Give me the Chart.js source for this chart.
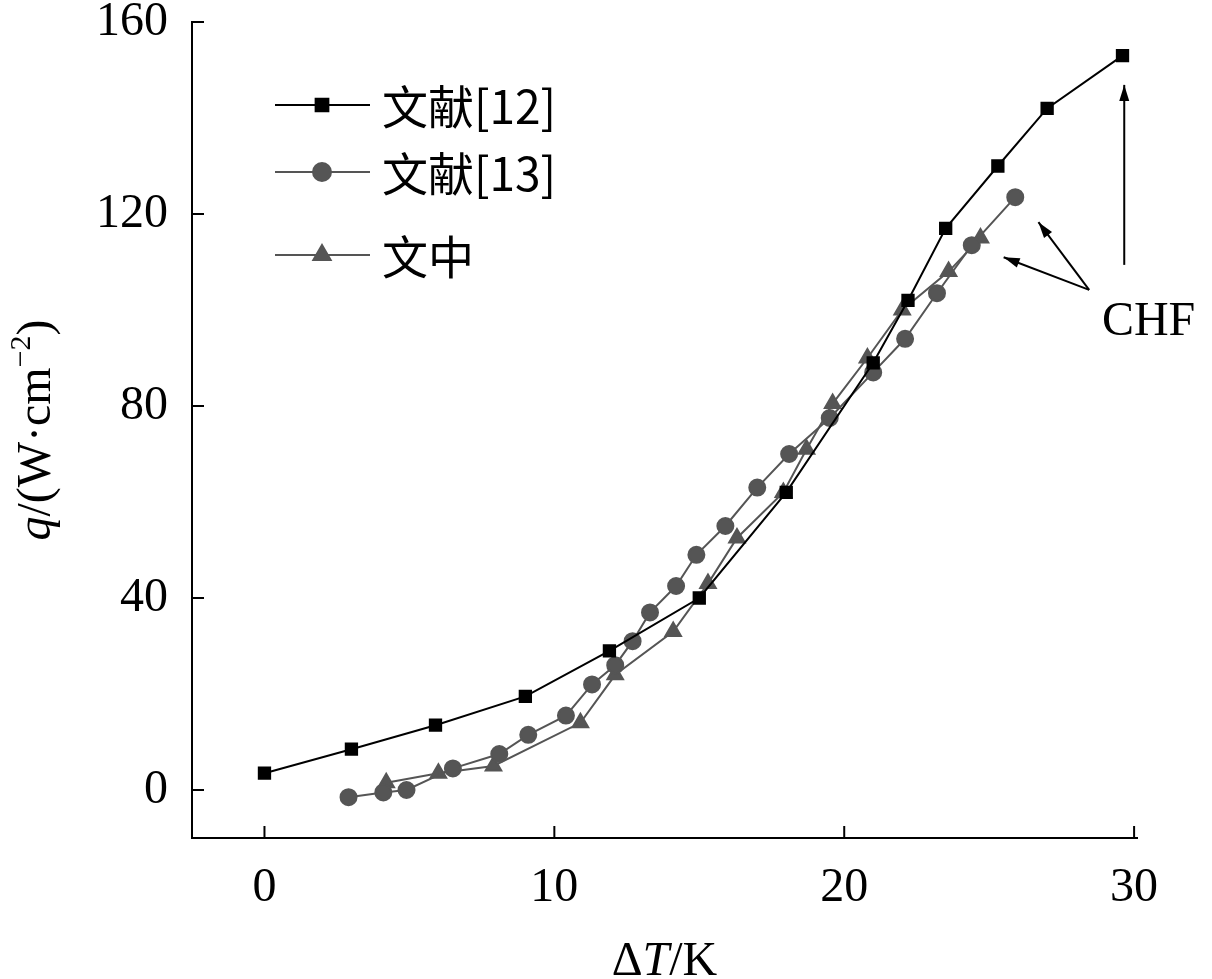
<!DOCTYPE html>
<html><head><meta charset="utf-8">
<script src="https://cdn.jsdelivr.net/npm/chart.js@4/dist/chart.umd.min.js"></script>
<style>html,body{margin:0;padding:0;background:#fff}#w{width:1212px;height:979px}</style>
</head><body><div id="w"><canvas id="c"></canvas></div>
<script>
const seriesNames=['文献[12]','文献[13]','文中'];
const ref12X=[0,3,5.9,9,11.9,15,18,21,22.2,23.5,25.3,27,29.6];
const ref12Y=[3.5,8.5,13.5,19.5,29,40,62,89,102,117,130,142,153];
const ref13X=[2.9,4.1,4.9,6.5,8.1,9.1,10.4,11.3,12.1,12.7,13.3,14.2,14.9,15.9,17,18.1,19.5,21,22.1,23.2,24.4,25.9];
const ref13Y=[-1.5,-0.5,0,4.5,7.5,11.5,15.5,22,26,31,37,42.5,49,55,63,70,77.5,87,94,103.5,113.5,123.5];
const workX=[4.2,6,7.9,10.9,12.1,14.1,15.3,16.3,17.9,18.7,19.6,20.8,22,23.6,24.7];
const workY=[1.5,3.5,5,14,24,33,43,52.5,62,71,80.5,90,100,108,115];
const xTicks=[0,10,20,30];
const yTicks=[0,40,80,120,160];
const F='"Liberation Serif","Times New Roman",serif';
const pts=(xs,ys)=>xs.map((x,i)=>({x,y:ys[i]}));
const styles=[{c:'#000',p:'rect',r:8},{c:'#555',p:'circle',r:8},{c:'#555',p:'triangle',r:9}];
const data=[pts(ref12X,ref12Y),pts(ref13X,ref13Y),pts(workX,workY)];
const datasets=data.map((d,i)=>({label:seriesNames[i],data:d,borderColor:styles[i].c,backgroundColor:styles[i].c,pointStyle:styles[i].p,pointRadius:styles[i].r,borderWidth:2,tension:0}));
function arrow(ctx,x1,y1,x2,y2){ctx.beginPath();ctx.moveTo(x1,y1);ctx.lineTo(x2,y2);ctx.stroke();
 const a=Math.atan2(y2-y1,x2-x1),L=16,W=5;ctx.beginPath();ctx.moveTo(x2,y2);
 ctx.lineTo(x2-L*Math.cos(a)+W*Math.sin(a),y2-L*Math.sin(a)-W*Math.cos(a));
 ctx.lineTo(x2-L*Math.cos(a)-W*Math.sin(a),y2-L*Math.sin(a)+W*Math.cos(a));ctx.closePath();ctx.fill();}
const deco={id:'deco',afterDraw(ch){const ctx=ch.ctx,x=ch.scales.x,y=ch.scales.y;ctx.save();
 ctx.strokeStyle='#000';ctx.fillStyle='#000';ctx.lineWidth=2;
 xTicks.forEach(v=>{const p=x.getPixelForValue(v);ctx.beginPath();ctx.moveTo(p,x.top);ctx.lineTo(p,x.top-12);ctx.stroke();});
 yTicks.forEach(v=>{const p=y.getPixelForValue(v);ctx.beginPath();ctx.moveTo(y.right,p);ctx.lineTo(y.right+12,p);ctx.stroke();});
 arrow(ctx,x.getPixelForValue(29.66),y.getPixelForValue(109.4),x.getPixelForValue(29.66),y.getPixelForValue(146.9));
 arrow(ctx,x.getPixelForValue(28.45),y.getPixelForValue(104.2),x.getPixelForValue(26.7),y.getPixelForValue(118.3));
 arrow(ctx,x.getPixelForValue(28.45),y.getPixelForValue(104.2),x.getPixelForValue(25.5),y.getPixelForValue(111));
 ctx.font='48px '+F;ctx.textAlign='center';ctx.textBaseline='middle';
 ctx.fillText('CHF',x.getPixelForValue(30.5),y.getPixelForValue(97.5));
 const rows=[105,172,255];ctx.textAlign='left';
 rows.forEach((ry,i)=>{const s=styles[i];ctx.strokeStyle=s.c;ctx.fillStyle=s.c;ctx.lineWidth=2;
  ctx.beginPath();ctx.moveTo(275,ry);ctx.lineTo(370,ry);ctx.stroke();
  Chart.helpers.drawPoint(ctx,{pointStyle:s.p,radius:s.r+1,borderWidth:1},322,ry);ctx.fill();
  ctx.fillStyle='#000';ctx.font='46px "Noto Sans CJK SC",'+F;ctx.fillText(seriesNames[i],382,ry+2);});
 ctx.fillStyle='#000';ctx.textBaseline='alphabetic';
 ctx.font='48px '+F;let t1='Δ',t2='T',t3='/K';
 let w=ctx.measureText(t1).width+ctx.measureText(t3).width;ctx.font='italic 48px '+F;w+=ctx.measureText(t2).width;
 let px=(x.left+x.right)/2-w/2,py=975;ctx.font='48px '+F;ctx.fillText(t1,px,py);px+=ctx.measureText(t1).width;
 ctx.font='italic 48px '+F;ctx.fillText(t2,px,py);px+=ctx.measureText(t2).width;ctx.font='48px '+F;ctx.fillText(t3,px,py);
 ctx.translate(50,(y.top+y.bottom)/2);ctx.rotate(-Math.PI/2);
 ctx.font='italic 48px '+F;const q='q';let qw=ctx.measureText(q).width;ctx.font='48px '+F;
 const m='/(W·cm',e='−2',cl=')';let mw=ctx.measureText(m).width,clw=ctx.measureText(cl).width;ctx.font='30px '+F;let ew=ctx.measureText(e).width;
 px=-(qw+mw+ew+clw)/2;ctx.font='italic 48px '+F;ctx.fillText(q,px,0);px+=qw;ctx.font='48px '+F;ctx.fillText(m,px,0);px+=mw;
 ctx.font='30px '+F;ctx.fillText(e,px,-20);px+=ew;ctx.font='48px '+F;ctx.fillText(cl,px,0);
 ctx.restore();}};
new Chart(document.getElementById('c'),{type:'line',data:{datasets},plugins:[deco],
 options:{responsive:true,maintainAspectRatio:false,animation:false,layout:{padding:{left:0,top:22,right:75,bottom:0}},
 plugins:{legend:{display:false},tooltip:{enabled:false}},
 scales:{x:{type:'linear',min:-2.5,max:30.1,afterBuildTicks:s=>{s.ticks=xTicks.map(v=>({value:v}))},afterFit:s=>{s.height=141;s.paddingTop=0},
  grid:{drawOnChartArea:false,drawTicks:false,tickLength:0},border:{color:'#000',width:2},
  ticks:{color:'#000',font:{family:F,size:48},maxRotation:0,padding:22}},
  y:{min:-10,max:160,afterBuildTicks:s=>{s.ticks=yTicks.map(v=>({value:v}))},afterFit:s=>{s.width=192;s.paddingTop=0;s.paddingBottom=0},
  grid:{drawOnChartArea:false,drawTicks:false,tickLength:0},border:{color:'#000',width:2},
  ticks:{color:'#000',font:{family:F,size:48},padding:24}}}}});
</script></body></html>
